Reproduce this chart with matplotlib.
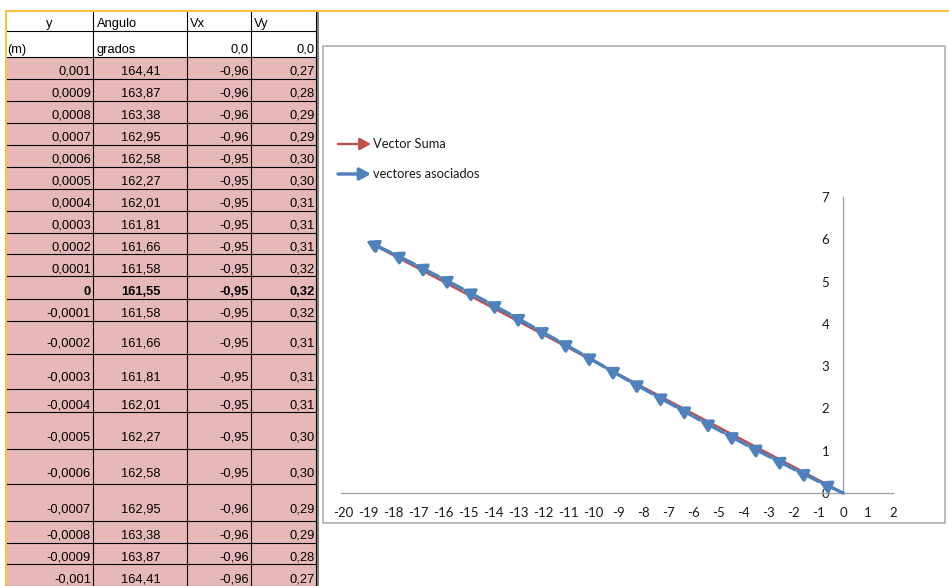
import matplotlib
matplotlib.use("Agg")
import matplotlib.pyplot as plt
from matplotlib.patches import Rectangle
import numpy as np

plt.rcParams["axes.unicode_minus"] = False

# datos de la hoja
y_m = [0.001, 0.0009, 0.0008, 0.0007, 0.0006, 0.0005, 0.0004, 0.0003, 0.0002, 0.0001, 0.0,
       -0.0001, -0.0002, -0.0003, -0.0004, -0.0005, -0.0006, -0.0007, -0.0008, -0.0009, -0.001]
angulo = [164.41, 163.87, 163.38, 162.95, 162.58, 162.27, 162.01, 161.81, 161.66, 161.58, 161.55,
          161.58, 161.66, 161.81, 162.01, 162.27, 162.58, 162.95, 163.38, 163.87, 164.41]
vx = [-0.96, -0.96, -0.96, -0.96, -0.95, -0.95, -0.95, -0.95, -0.95, -0.95, -0.95,
      -0.95, -0.95, -0.95, -0.95, -0.95, -0.95, -0.96, -0.96, -0.96, -0.96]
vy = [0.27, 0.28, 0.29, 0.29, 0.30, 0.30, 0.31, 0.31, 0.31, 0.32, 0.32,
      0.32, 0.31, 0.31, 0.31, 0.30, 0.30, 0.29, 0.29, 0.28, 0.27]
start = (0.0, 0.0)
fila_central = 10  # fila en negrita, no entra en la cadena del grafico

x_ticks = list(range(-20, 3))
y_ticks = list(range(0, 8))

# layout de la hoja (pixeles)
col_edges = [6, 93, 187, 251, 316]
row_edges = [11, 31, 57, 79, 101, 123, 145, 167, 189, 211, 233, 254, 276, 299, 321,
             354, 389, 412, 449, 484, 521, 543, 564, 586]

W, H = 949, 586
rosa = "#E6B9B8"
naranja = "#F7C23E"
azul = "#4F81BD"
rojo = "#C0504D"
PX = 0.72  # puntos por pixel a 100 dpi

fig = plt.figure(figsize=(W / 100, H / 100), dpi=100)
bg = fig.add_axes([0, 0, 1, 1])
bg.set_xlim(0, W)
bg.set_ylim(H, 0)
bg.axis("off")


def fmt_y(v):
    if v == 0:
        return "0"
    return f"{v:g}".replace(".", ",")


def fmt2(v):
    return f"{v:.2f}".replace(".", ",")


def fmt1(v):
    return f"{v:.1f}".replace(".", ",")


tfont = dict(family=["Liberation Sans", "DejaVu Sans"], fontsize=9.3, color="black")

# relleno filas de datos
for r in range(2, len(row_edges) - 1):
    bg.add_patch(Rectangle((col_edges[0], row_edges[r]), col_edges[-1] - col_edges[0],
                           row_edges[r + 1] - row_edges[r], facecolor=rosa, edgecolor="none"))

# cuadricula
for yy in row_edges[1:]:
    bg.plot([col_edges[0], col_edges[-1]], [yy, yy], color="black", lw=0.8)
for xx in col_edges[1:]:
    bg.plot([xx, xx], [row_edges[0], H], color="black", lw=0.8)
bg.plot([col_edges[-1] + 2.5, col_edges[-1] + 2.5], [row_edges[0], H], color="#666666", lw=1.2)
bg.plot([col_edges[0], W], [row_edges[0], row_edges[0]], color=naranja, lw=2 * PX)
bg.plot([col_edges[0], col_edges[0]], [row_edges[0], H], color=naranja, lw=2 * PX)


def text_y(r):
    top, bot = row_edges[r], row_edges[r + 1]
    if bot - top <= 26:
        return bot - 4
    return (top + bot) / 2 + 9.5


# encabezados
ty = text_y(0)
bg.text((col_edges[0] + col_edges[1]) / 2, ty, "y", ha="center", va="baseline", **tfont)
bg.text(col_edges[1] + 4, ty, "Angulo", ha="left", va="baseline", **tfont)
bg.text(col_edges[2] + 3, ty, "Vx", ha="left", va="baseline", **tfont)
bg.text(col_edges[3] + 3, ty, "Vy", ha="left", va="baseline", **tfont)
ty = text_y(1)
bg.text(col_edges[0] + 1, ty, "(m)", ha="left", va="baseline", **tfont)
bg.text(col_edges[1] + 4, ty, "grados", ha="left", va="baseline", **tfont)
bg.text(col_edges[3] - 2, ty, fmt1(start[0]), ha="right", va="baseline", **tfont)
bg.text(col_edges[4] - 1, ty, fmt1(start[1]), ha="right", va="baseline", **tfont)

for i in range(len(y_m)):
    r = i + 2
    ty = text_y(r)
    kw = dict(tfont)
    if i == fila_central:
        kw["fontweight"] = "bold"
    bg.text(col_edges[1] - 2, ty, fmt_y(y_m[i]), ha="right", va="baseline", **kw)
    bg.text((col_edges[1] + col_edges[2]) / 2 + 1, ty, fmt2(angulo[i]), ha="center", va="baseline", **kw)
    bg.text(col_edges[3] - 2, ty, fmt2(vx[i]), ha="right", va="baseline", **kw)
    bg.text(col_edges[4] - 1, ty, fmt2(vy[i]), ha="right", va="baseline", **kw)

# marco del grafico
bg.add_patch(Rectangle((323, 46), 945 - 323, 523 - 46, facecolor="none",
                       edgecolor="#A6A6A6", lw=1.5 * PX))

# leyenda
lfont = dict(family=["Lato", "DejaVu Sans"], fontsize=9.3, color="#1a1a1a")
for yy, col, lw, lab in [(144, rojo, 2.4, "Vector Suma"), (174, azul, 3.4, "vectores asociados")]:
    bg.annotate("", xy=(371, yy), xytext=(338, yy),
                arrowprops=dict(arrowstyle="-|>,head_length=0.55,head_width=0.3", color=col,
                                lw=lw * PX, mutation_scale=12, shrinkA=0, shrinkB=0))
    bg.text(373, yy, lab, ha="left", va="center", **lfont)

# grafico de vectores
ax = fig.add_axes([341 / W, (H - 493) / H, 552 / W, 296 / H])
ax.patch.set_alpha(0)
ax.set_xlim(-20.1, 2)
ax.set_ylim(0, 7)
for s in ["top", "right"]:
    ax.spines[s].set_visible(False)
ax.spines["left"].set_position(("data", 0))
ax.spines["bottom"].set_position(("data", 0))
for s in ["left", "bottom"]:
    ax.spines[s].set_color("#A0A0A0")
    ax.spines[s].set_linewidth(1.3 * PX)
ax.set_xticks(x_ticks)
ax.set_yticks(y_ticks)
ax.tick_params(length=0, pad=10, labelsize=9.5, colors="#1a1a1a")
for lab in ax.get_xticklabels() + ax.get_yticklabels():
    lab.set_family(["Lato", "DejaVu Sans"])

sel_vx = [v for i, v in enumerate(vx) if i != fila_central]
sel_vy = [v for i, v in enumerate(vy) if i != fila_central]
px = np.concatenate([[start[0]], start[0] + np.cumsum(sel_vx)])
py = np.concatenate([[start[1]], start[1] + np.cumsum(sel_vy)])

ax.annotate("", xy=(px[-1], py[-1]), xytext=(px[0], py[0]),
            arrowprops=dict(arrowstyle="-|>,head_length=0.55,head_width=0.3", color=rojo,
                            lw=2.4 * PX, mutation_scale=12, shrinkA=0, shrinkB=0))
for i in range(len(px) - 1):
    ax.annotate("", xy=(px[i + 1], py[i + 1]), xytext=(px[i], py[i]),
                arrowprops=dict(arrowstyle="-|>,head_length=0.55,head_width=0.32", color=azul,
                                lw=3.4 * PX, mutation_scale=12, shrinkA=0, shrinkB=0))

fig.savefig("out.png", dpi=100)
